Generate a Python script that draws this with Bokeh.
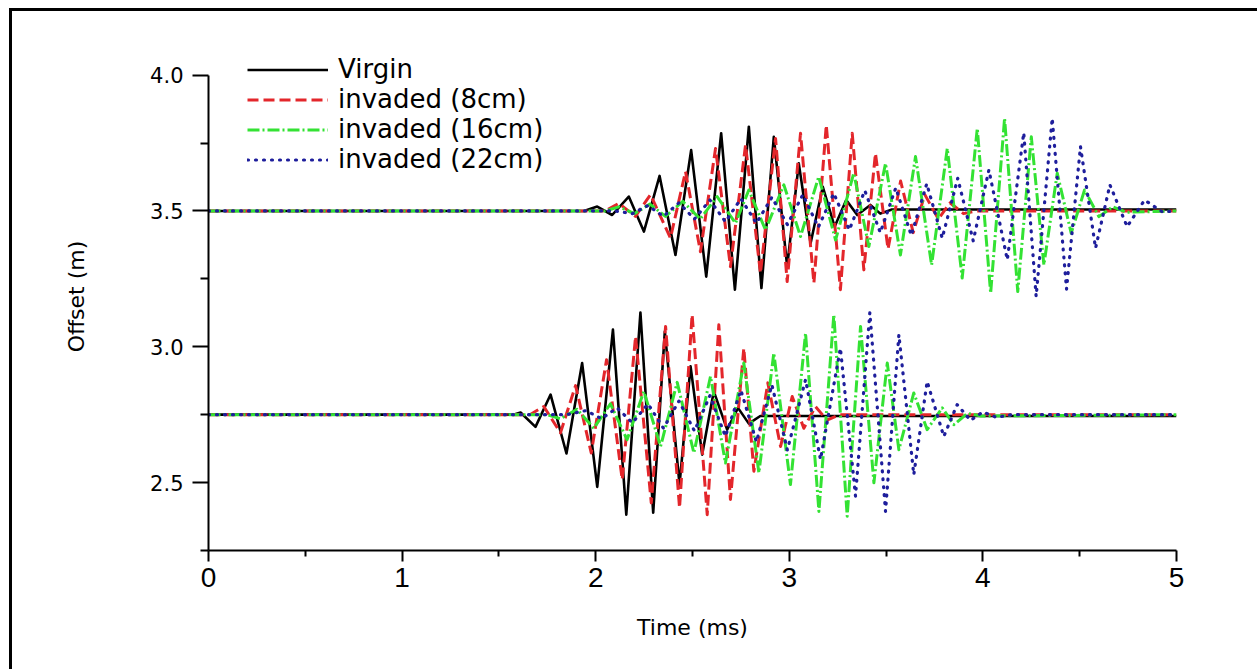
from bokeh.plotting import figure
from bokeh.models import Range1d, FixedTicker, Legend, LegendItem, NumeralTickFormatter, Div, Spacer
from bokeh.layouts import column, row
from bokeh.embed import file_html
from bokeh.resources import INLINE
import numpy as np

# ---------------- data ----------------
# Upper traces (offset 3.5 m)
virgin_up_t = [0, 1.94, 2.008, 2.085, 2.171, 2.249, 2.330, 2.412, 2.493, 2.571, 2.648, 2.719,
               2.791, 2.856, 2.920, 2.989, 3.049, 3.110, 3.173, 3.234, 3.294, 3.351, 3.419,
               3.47, 3.53, 5]
virgin_up_v = [3.5, 3.5, 3.516, 3.485, 3.553, 3.424, 3.629, 3.338, 3.724, 3.258, 3.786, 3.210,
               3.810, 3.216, 3.773, 3.295, 3.675, 3.381, 3.589, 3.442, 3.540, 3.485, 3.522,
               3.49, 3.505, 3.505]

inv8_up_t = [0, 2.05, 2.119, 2.205, 2.283, 2.386, 2.464, 2.541, 2.619, 2.696, 2.774, 2.851,
             2.929, 2.989, 3.058, 3.127, 3.191, 3.264, 3.325, 3.385, 3.445, 3.51, 3.575,
             3.64, 3.70, 3.77, 3.83, 3.90, 3.97, 5]
inv8_up_v = [3.5, 3.5, 3.528, 3.48, 3.56, 3.40, 3.645, 3.35, 3.73, 3.295, 3.743, 3.271,
             3.767, 3.24, 3.786, 3.234, 3.816, 3.21, 3.786, 3.283, 3.712, 3.36, 3.61,
             3.42, 3.56, 3.47, 3.53, 3.49, 3.5, 3.5]

inv16_up_t = [0, 2.05, 2.12, 2.20, 2.28, 2.36, 2.45, 2.54, 2.627, 2.722, 2.791, 2.877, 2.972,
              3.058, 3.152, 3.239, 3.333, 3.411, 3.497, 3.574, 3.652, 3.735, 3.816, 3.893,
              3.971, 4.04, 4.112, 4.18, 4.25, 4.315, 4.384, 4.456, 4.525, 4.599, 4.67, 4.74, 5]
inv16_up_v = [3.5, 3.5, 3.515, 3.49, 3.525, 3.48, 3.535, 3.47, 3.553, 3.455, 3.577, 3.43, 3.596,
              3.406, 3.626, 3.393, 3.639, 3.369, 3.675, 3.338, 3.70, 3.301, 3.73, 3.253,
              3.804, 3.197, 3.841, 3.203, 3.773, 3.301, 3.639, 3.418, 3.577, 3.479, 3.515, 3.495, 3.5]

inv22_up_t = [0, 2.10, 2.19, 2.27, 2.35, 2.43, 2.51, 2.59, 2.67, 2.75, 2.83, 2.91, 2.99, 3.07,
              3.15, 3.23, 3.31, 3.39, 3.47, 3.55, 3.63, 3.71, 3.79, 3.87, 3.95, 4.031, 4.126,
              4.211, 4.275, 4.358, 4.432, 4.504, 4.582, 4.656, 4.745, 4.835, 4.926, 5]
inv22_up_v = [3.5, 3.5, 3.49, 3.52, 3.48, 3.53, 3.47, 3.54, 3.46, 3.545, 3.455, 3.55, 3.45, 3.56,
              3.44, 3.565, 3.43, 3.575, 3.42, 3.585, 3.41, 3.60, 3.40, 3.62, 3.39, 3.651, 3.32,
              3.788, 3.185, 3.841, 3.212, 3.737, 3.363, 3.596, 3.442, 3.54, 3.497, 3.5]

# Lower traces (offset 2.75 m)
virgin_lo_t = [0, 1.575, 1.612, 1.689, 1.767, 1.849, 1.930, 2.008, 2.089, 2.158, 2.231, 2.297,
               2.357, 2.433, 2.490, 2.550, 2.610, 2.679, 2.735, 2.791, 2.85, 5]
virgin_lo_v = [2.75, 2.75, 2.758, 2.705, 2.824, 2.607, 2.940, 2.484, 3.063, 2.382, 3.126, 2.389,
               3.056, 2.493, 2.928, 2.603, 2.836, 2.695, 2.775, 2.717, 2.745, 2.745]

inv8_lo_t = [0, 1.66, 1.732, 1.818, 1.896, 1.977, 2.056, 2.137, 2.206, 2.287, 2.361, 2.433,
             2.498, 2.576, 2.636, 2.696, 2.765, 2.817, 2.889, 2.955, 3.015, 3.075, 3.135,
             3.195, 3.26, 5]
inv8_lo_v = [2.75, 2.75, 2.78, 2.683, 2.857, 2.609, 2.952, 2.511, 3.038, 2.425, 3.075, 2.407,
             3.118, 2.382, 3.081, 2.438, 2.995, 2.542, 2.867, 2.633, 2.817, 2.70, 2.78,
             2.73, 2.75, 2.75]

inv16_lo_t = [0, 1.75, 1.818, 1.904, 1.99, 2.076, 2.162, 2.249, 2.335, 2.421, 2.507, 2.593,
              2.670, 2.765, 2.843, 2.920, 3.006, 3.084, 3.153, 3.230, 3.299, 3.368, 3.437,
              3.506, 3.566, 3.643, 3.712, 3.79, 3.85, 3.92, 3.99, 5]
inv16_lo_v = [2.75, 2.75, 2.735, 2.77, 2.70, 2.79, 2.658, 2.836, 2.633, 2.869, 2.609, 2.891,
              2.572, 2.94, 2.536, 2.977, 2.493, 3.05, 2.394, 3.118, 2.376, 3.075, 2.499,
              2.94, 2.621, 2.83, 2.695, 2.775, 2.713, 2.755, 2.745, 2.75]

inv22_lo_t = [0, 1.85, 1.95, 2.03, 2.11, 2.19, 2.27, 2.35, 2.43, 2.51, 2.59, 2.67, 2.75, 2.83,
              2.91, 2.99, 3.084, 3.161, 3.264, 3.342, 3.416, 3.497, 3.566, 3.643, 3.712,
              3.798, 3.867, 3.936, 4.00, 4.07, 4.15, 5]
inv22_lo_v = [2.75, 2.75, 2.765, 2.735, 2.775, 2.72, 2.79, 2.70, 2.80, 2.69, 2.82, 2.67, 2.84,
              2.65, 2.86, 2.62, 2.879, 2.585, 2.995, 2.45, 3.126, 2.394, 3.044, 2.529, 2.872,
              2.67, 2.787, 2.729, 2.76, 2.74, 2.75, 2.75]

series_names = ["Virgin", "invaded (8cm)", "invaded (16cm)", "invaded (22cm)"]
x_ticks = [0, 1, 2, 3, 4, 5]
x_minor = [0.5, 1.5, 2.5, 3.5, 4.5]
y_ticks = [2.5, 3.0, 3.5, 4.0]
y_minor = [2.25, 2.75, 3.25, 3.75]

# ---------------- figure ----------------
FONT = "DejaVu Sans"
# y range reaches above 4.0 so the legend is not clipped; the axis line stops at 4.0.
# The canvas runs a few pixels past the right and bottom window edges (as the cropped
# reference picture does), so its outer edge stays outside the visible page.
p = figure(width=1255, height=668, x_range=Range1d(0, 5), y_range=Range1d(2.25, 4.12),
           output_backend="svg", toolbar_location=None,
           min_border_left=196, min_border_top=31, min_border_right=91, min_border_bottom=129)
p.grid.visible = False
p.outline_line_color = None
p.background_fill_color = "white"
p.border_fill_color = "white"


def joined(t1, v1, t2, v2):
    return list(t1) + [np.nan] + list(t2), list(v1) + [np.nan] + list(v2)


styles = [
    dict(line_color="black", line_width=2.6, line_dash="solid"),
    dict(line_color="#e3262b", line_width=3, line_dash="11 5"),
    dict(line_color="#33e233", line_width=3, line_dash="12 3 2 3"),
    dict(line_color="#1e1e9c", line_width=3.2, line_dash="1 7", line_cap="round"),
]
data = [
    joined(virgin_up_t, virgin_up_v, virgin_lo_t, virgin_lo_v),
    joined(inv8_up_t, inv8_up_v, inv8_lo_t, inv8_lo_v),
    joined(inv16_up_t, inv16_up_v, inv16_lo_t, inv16_lo_v),
    joined(inv22_up_t, inv22_up_v, inv22_lo_t, inv22_lo_v),
]

items = []
for (t, v), st, name in zip(data, styles, series_names):
    r = p.line(t, v, line_join="round", **st)
    items.append(LegendItem(label=name, renderers=[r]))

legend = Legend(items=items, location=(39, 376), padding=0, margin=0, spacing=0,
                glyph_width=81, glyph_height=29, label_height=29, label_standoff=10,
                label_text_font_size="26px", label_text_font=FONT,
                label_text_color="black",
                border_line_color=None, background_fill_alpha=0)
p.add_layout(legend)

# axes
for ax in (p.xaxis[0], p.yaxis[0]):
    ax.axis_line_width = 2
    ax.axis_line_color = "black"
    ax.major_tick_line_width = 2
    ax.minor_tick_line_width = 2
    ax.major_tick_line_color = "black"
    ax.minor_tick_line_color = "black"
    ax.major_tick_in = 0
    ax.minor_tick_in = 0
    ax.major_label_text_color = "black"
    ax.axis_label_text_color = "black"
    ax.axis_label_text_font_style = "normal"
    ax.axis_label_text_font = FONT
    ax.axis_label_text_font_size = "22px"

p.xaxis.ticker = FixedTicker(ticks=x_ticks, minor_ticks=x_minor)
p.yaxis.ticker = FixedTicker(ticks=y_ticks, minor_ticks=y_minor)
p.yaxis.formatter = NumeralTickFormatter(format="0.0")
p.yaxis.bounds = (2.25, 4.0)

p.xaxis.major_tick_out = 11
p.xaxis.minor_tick_out = 6
p.xaxis.major_label_text_font = "Liberation Sans"
p.xaxis.major_label_text_font_size = "28px"
p.xaxis.major_label_standoff = 6
p.xaxis.axis_label = "Time (ms)"
p.xaxis.axis_label_standoff = 25

p.yaxis.major_tick_out = 16
p.yaxis.minor_tick_out = 8
p.yaxis.major_label_text_font = FONT
p.yaxis.major_label_text_font_size = "21px"
p.yaxis.major_label_standoff = 9
p.yaxis.axis_label = "Offset (m)"
p.yaxis.axis_label_standoff = 58

# picture frame: thick black strips on the top and left edges, built from plain layout boxes
top_bar = Div(text="", width=1258, height=3, margin=0, styles={"background-color": "black"})
left_bar = Div(text="", width=3, height=668, margin=0, styles={"background-color": "black"})
page = column(
    Spacer(width=1267, height=8, margin=0),
    row(Spacer(width=9, height=671, margin=0),
        column(top_bar, row(left_bar, p, spacing=0), spacing=0),
        spacing=0),
    spacing=0,
)

open("out.html", "w").write(file_html(page, INLINE))
